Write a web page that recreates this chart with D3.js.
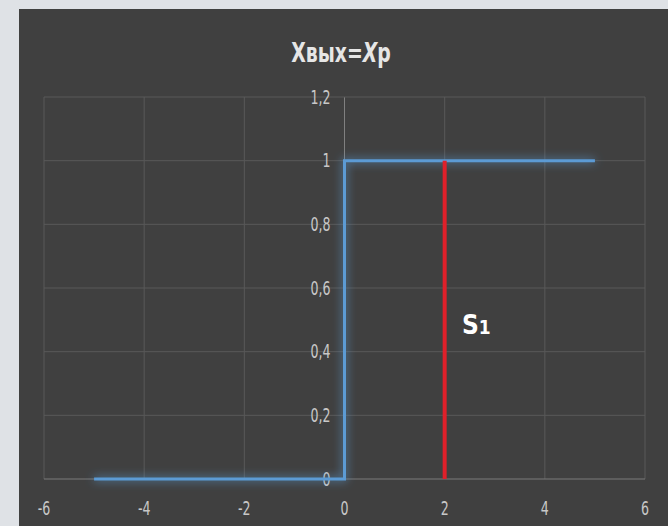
<!DOCTYPE html>
<html><head><meta charset="utf-8">
<script src="https://cdn.jsdelivr.net/npm/d3@7"></script>
<style>
html,body{margin:0;padding:0;background:#dfe2e6;}
svg{display:block;}
text{font-family:"Liberation Sans Narrow","DejaVu Sans Condensed","Open Sans",sans-serif;font-stretch:condensed;}
</style></head>
<body>
<script>
const stepX = [-5, 0, 0, 5];
const stepY = [0, 0, 1, 1];
const markerX = [2, 2];
const markerY = [0, 1];
const xTicks = [-6, -4, -2, 0, 2, 4, 6];
const yTicks = [0, 0.2, 0.4, 0.6, 0.8, 1, 1.2];
const title = "Xвых=";
const titleItalic = "X";
const titleEnd = "р";

const W = 668, H = 526;
const svg = d3.select("body").append("svg").attr("width", W).attr("height", H);
const defs = svg.append("defs");
const glow = defs.append("filter").attr("id","glow").attr("x","-20%").attr("y","-20%").attr("width","140%").attr("height","140%");
glow.append("feGaussianBlur").attr("in","SourceGraphic").attr("stdDeviation",5).attr("result","b");
const m = glow.append("feMerge");
m.append("feMergeNode").attr("in","b");
m.append("feMergeNode").attr("in","SourceGraphic");

svg.append("rect").attr("x",19).attr("y",9).attr("width",W-19).attr("height",H-9).attr("fill","#404040");

const x = d3.scaleLinear().domain([-6, 6]).range([44, 645]);
const y = d3.scaleLinear().domain([0, 1.2]).range([479, 97]);

const grid = svg.append("g");
grid.selectAll("line.v").data(xTicks).join("line")
  .attr("x1", d=>x(d)).attr("x2", d=>x(d)).attr("y1", y(0)).attr("y2", y(1.2))
  .attr("stroke", d=> d===0 ? "#808080" : "#585858").attr("stroke-width",1);
grid.selectAll("line.h").data(yTicks).join("line")
  .attr("x1", x(-6)).attr("x2", x(6)).attr("y1", d=>y(d)).attr("y2", d=>y(d))
  .attr("stroke", d=> d===0 ? "#7a7a7a" : "#585858").attr("stroke-width",1);

const fmt = d => String(Math.round(d*10)/10).replace(".", ",");
const SY = 1.38;
svg.append("g").selectAll("text").data(yTicks).join("text")
  .attr("transform", d=>`translate(${x(0) - 14},${y(d)}) scale(1,${SY})`)
  .attr("dy","0.35em")
  .attr("text-anchor","end").attr("fill","#c8c8c8").attr("font-size",14)
  .text(fmt);
svg.append("g").selectAll("text").data(xTicks).join("text")
  .attr("transform", d=>`translate(${x(d)},508) scale(1,${SY})`)
  .attr("dy","0.35em")
  .attr("text-anchor","middle").attr("fill","#c8c8c8").attr("font-size",14)
  .text(d=>d);

const line = d3.line().x(d=>x(d[0])).y(d=>y(d[1]));
const stepPts = stepX.map((v,i)=>[v, stepY[i]]);
svg.append("path").datum(stepPts).attr("d", line)
  .attr("fill","none").attr("stroke","#5b9bd5").attr("stroke-width",3)
  .attr("filter","url(#glow)");
const redPts = markerX.map((v,i)=>[v, markerY[i]]);
svg.append("path").datum(redPts).attr("d", line)
  .attr("fill","none").attr("stroke","#e0202a").attr("stroke-width",4);

const t = svg.append("text").attr("transform","translate(341,62) scale(1,1.3)").attr("text-anchor","middle")
  .attr("fill","#e6e6e6").attr("font-size",21).attr("font-weight","bold");
t.append("tspan").text(title);
t.append("tspan").attr("font-style","italic").text(titleItalic);
t.append("tspan").text(titleEnd);

const s = svg.append("text").attr("x", 462).attr("y", 334)
  .attr("fill","#ffffff").attr("font-size",26).attr("font-weight","bold")
  .attr("font-family","'Open Sans',sans-serif");
s.append("tspan").text("S");
s.append("tspan").attr("font-size",19).text("1");
</script>
</body></html>
